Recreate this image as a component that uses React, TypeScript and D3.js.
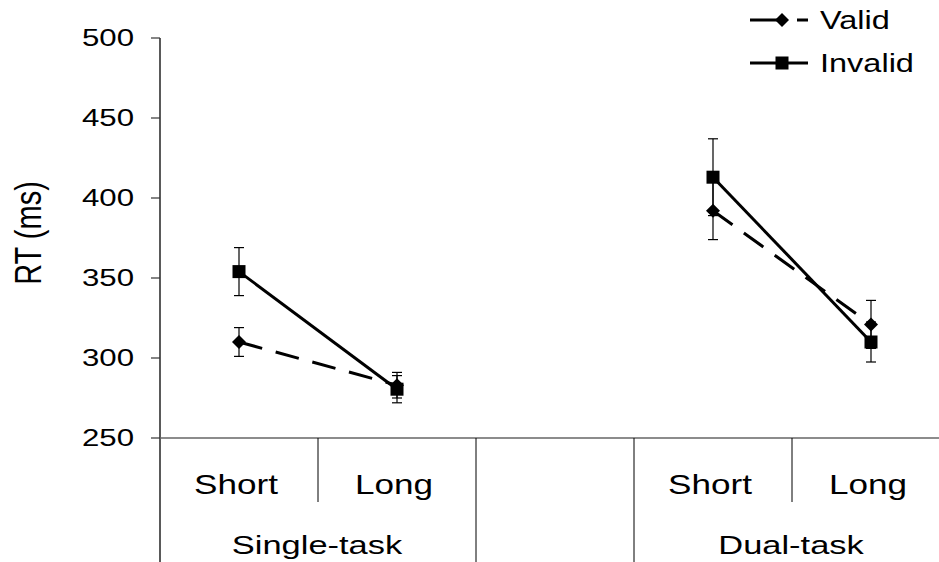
import * as d3 from 'd3';

const WIDTH = 939;
const HEIGHT = 562;
const MARGIN = { top: 38, left: 160, axisY: 438 };
const STRETCH = 1.3;
const FONT = '"Liberation Sans", Arial, sans-serif';

// conditions along the x axis (the middle slot is an empty spacer)
const slots = ['single-short', 'single-long', 'gap', 'dual-short', 'dual-long'];
const slotLabels = ['Short', 'Long', '', 'Short', 'Long'];
const groups = ['Single-task', 'Dual-task'];
const groupSlots = [['single-short', 'single-long'], ['dual-short', 'dual-long']];

const validMeans = [310, 283, 392, 321];
const validErr = [9, 8, 18, 15];
const invalidMeans = [354, 280.5, 413, 310];
const invalidErr = [15, 8.5, 24, 12.5];
const yTicks = [250, 300, 350, 400, 450, 500];

const dataSlots = ['single-short', 'single-long', 'dual-short', 'dual-long'];

const Txt = ({ x, y, anchor, size, children }: any) => (
    <g transform={`translate(${x},${y}) scale(${STRETCH},1)`}>
        <text x={0} y={0} textAnchor={anchor} dominantBaseline="central" fontSize={size} fontFamily={FONT} fill="#000">
            {children}
        </text>
    </g>
);

export default function App() {
    const xScale = d3.scaleBand().domain(slots).range([MARGIN.left, MARGIN.left + 790]).padding(0);
    const yScale = d3.scaleLinear().domain([250, 500]).range([MARGIN.axisY, MARGIN.top]);
    const cx = (s: string) => (xScale(s) ?? 0) + xScale.bandwidth() / 2;

    const line = d3
        .line<[number, number]>()
        .x((d) => d[0])
        .y((d) => d[1]);

    const series = [
        { name: 'Valid', means: validMeans, err: validErr, dash: '24 14', marker: 'diamond' },
        { name: 'Invalid', means: invalidMeans, err: invalidErr, dash: undefined, marker: 'square' },
    ];

    const marker = (type: string, x: number, y: number, key: any) =>
        type === 'square' ? (
            <rect key={key} x={x - 6.5} y={y - 6.5} width={13} height={13} fill="#000" />
        ) : (
            <path key={key} d={`M${x},${y - 7}L${x + 7},${y}L${x},${y + 7}L${x - 7},${y}Z`} fill="#000" />
        );

    return (
        <div style={{ position: 'fixed', left: 0, top: 0 }}>
            <svg width={WIDTH} height={HEIGHT} style={{ display: 'block', background: '#fff' }}>
                {/* y axis */}
                <line x1={MARGIN.left} x2={MARGIN.left} y1={MARGIN.top} y2={HEIGHT} stroke="#000" strokeWidth={1.3} />
                {yTicks.map((t) => (
                    <g key={t}>
                        <line x1={MARGIN.left - 9} x2={MARGIN.left} y1={yScale(t)} y2={yScale(t)} stroke="#333" strokeWidth={1.2} />
                        <Txt x={134} y={yScale(t)} anchor="end" size={24}>{t}</Txt>
                    </g>
                ))}
                <g transform={`translate(28,233) scale(${STRETCH},1) rotate(-90)`}>
                    <text textAnchor="middle" dominantBaseline="central" fontSize={29} fontFamily={FONT}>RT (ms)</text>
                </g>

                {/* x axis and category dividers */}
                <line x1={MARGIN.left} x2={WIDTH} y1={MARGIN.axisY} y2={MARGIN.axisY} stroke="#666" strokeWidth={1.3} />
                {slots.slice(1).map((s, i) => {
                    const x = xScale(s) ?? 0;
                    const full = s === 'gap' || s === 'dual-short';
                    return <line key={i} x1={x} x2={x} y1={MARGIN.axisY} y2={full ? HEIGHT : 502} stroke="#000" strokeWidth={1} />;
                })}
                {slots.map((s, i) =>
                    slotLabels[i] ? <Txt key={i} x={cx(s) - 3} y={485} anchor="middle" size={27}>{slotLabels[i]}</Txt> : null
                )}
                {groups.map((g, i) => {
                    const x0 = xScale(groupSlots[i][0]) ?? 0;
                    const x1 = (xScale(groupSlots[i][1]) ?? 0) + xScale.bandwidth();
                    return <Txt key={g} x={(x0 + x1) / 2 - 1} y={545} anchor="middle" size={26.5}>{g}</Txt>;
                })}

                {/* error bars */}
                {series.map((sr) =>
                    dataSlots.map((s, i) => {
                        const x = cx(s);
                        const top = yScale(sr.means[i] + sr.err[i]);
                        const bot = yScale(sr.means[i] - sr.err[i]);
                        return (
                            <g key={sr.name + i} stroke="#000" strokeWidth={1.2}>
                                <line x1={x} x2={x} y1={top} y2={bot} />
                                <line x1={x - 5} x2={x + 5} y1={top} y2={top} />
                                <line x1={x - 5} x2={x + 5} y1={bot} y2={bot} />
                            </g>
                        );
                    })
                )}

                {/* lines + markers */}
                {series.map((sr) => (
                    <g key={sr.name}>
                        {groupSlots.map((gs, gi) => (
                            <path
                                key={gi}
                                d={line(gs.map((s) => [cx(s), yScale(sr.means[dataSlots.indexOf(s)])]))!}
                                fill="none"
                                stroke="#000"
                                strokeWidth={3}
                                strokeDasharray={sr.dash}
                            />
                        ))}
                        {dataSlots.map((s, i) => marker(sr.marker, cx(s), yScale(sr.means[i]), i))}
                    </g>
                ))}

                {/* legend */}
                {series.map((sr, i) => {
                    const y = 20 + i * 43;
                    return (
                        <g key={sr.name}>
                            <line x1={750} x2={808} y1={y} y2={y} stroke="#000" strokeWidth={3} strokeDasharray={sr.dash ? '37 10 11' : undefined} />
                            {marker(sr.marker, 782, y, 'm')}
                            <Txt x={820} y={y} anchor="start" size={25}>{sr.name}</Txt>
                        </g>
                    );
                })}
            </svg>
        </div>
    );
}
